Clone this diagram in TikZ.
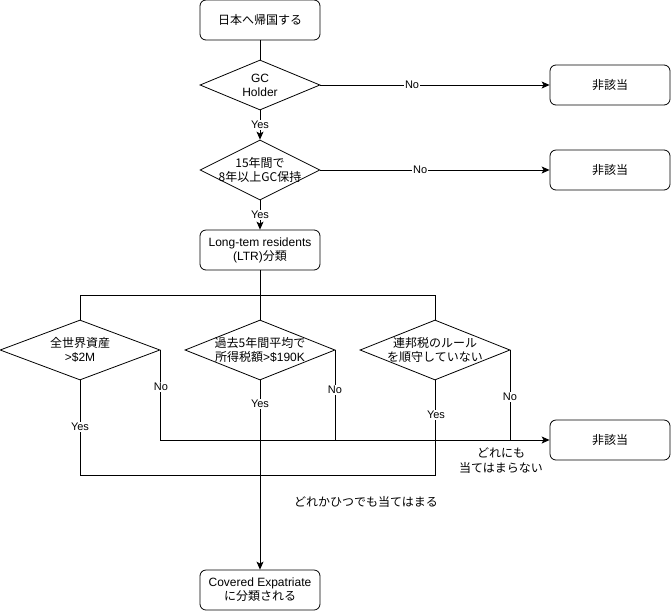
\documentclass[tikz,border=0pt]{standalone}
\usepackage{fontspec}
\setmainfont{Liberation Sans}
\newfontfamily\jp{Noto Sans CJK JP}
\usetikzlibrary{shapes.geometric,arrows.meta}
\tikzset{
  box/.style={draw, rounded corners=6pt, minimum width=120pt, minimum height=40pt, align=center, inner sep=0pt, font=\fontsize{12}{14}\selectfont, line width=0.8pt},
  dia/.style={draw, diamond, inner sep=0pt, line width=0.8pt},
  dtext/.style={align=center, font=\fontsize{12}{14}\selectfont, inner sep=0pt},
  lab/.style={fill=white, inner sep=1pt, font=\fontsize{11}{13}\selectfont},
  plain/.style={font=\fontsize{12}{15}\selectfont, align=center, inner sep=0pt},
  conn/.style={line width=0.8pt},
  arr/.style={line width=0.8pt, -{Stealth[length=8pt,width=7pt,inset=2pt]}}
}
\begin{document}
\begin{tikzpicture}[x=1pt,y=-1pt]
\useasboundingbox (0,0) rectangle (671,611);
% nodes
\node[box] (b1) at (260,20) {{\jp 日本へ帰国する}};
\node[dia, minimum width=120pt, minimum height=50pt] (d1) at (260,85) {};
\node[dtext] (d1t) at (260,85) {GC\\Holder};
\node[box] (n1) at (610,85) {{\jp 非該当}};
\node[dia, minimum width=120pt, minimum height=60pt] (d2) at (260,170) {};
\node[dtext] (d2t) at (260,170) {{\jp 15年間で}\\{\jp 8年以上GC保持}};
\node[box] (n2) at (610,170) {{\jp 非該当}};
\node[box] (ltr) at (260,250) {Long-tem residents\\(LTR){\jp 分類}};
\node[dia, minimum width=160pt, minimum height=60pt] (dA) at (80,350) {};
\node[dtext] (dAt) at (80,350) {{\jp 全世界資産}\\{>\$2M}};
\node[dia, minimum width=150pt, minimum height=60pt] (dB) at (260,350) {};
\node[dtext] (dBt) at (260,350) {{\jp 過去5年間平均で}\\{\jp 所得税額}>\$190K};
\node[dia, minimum width=150pt, minimum height=60pt] (dC) at (435,350) {};
\node[dtext] (dCt) at (435,350) {{\jp 連邦税のルール}\\{\jp を順守していない}};
\node[box] (n3) at (610,440) {{\jp 非該当}};
\node[box] (ce) at (260,590) {Covered Expatriate\\{\jp に分類される}};
\coordinate (jy) at (0,295);
\coordinate (by) at (0,475);
% connectors
\draw[conn] (b1.south) -- (d1.north);
\draw[arr] (d1.east) -- node[lab, pos=0.4] {No} (n1.west);
\draw[arr] (d1.south) -- node[lab] {Yes} (d2.north);
\draw[arr] (d2.east) -- node[lab, pos=0.435] {No} (n2.west);
\draw[arr] (d2.south) -- node[lab] {Yes} (ltr.north);
\draw[conn] (ltr.south) -- (dB.north);
\draw[conn] (dA.north) -- (dA.north |- jy) -- (dC.north |- jy) -- (dC.north);
\draw[conn] (dA.south) -- (dA.south |- by) -- (dC.south |- by) -- (dC.south);
\draw[arr] (dB.south) -- node[lab, pos=0.126] {Yes} (ce.north);
\draw[arr] (dA.east) |- (n3.west);
\draw[conn] (dB.east) -- (dB.east |- n3.west);
\draw[conn] (dC.east) -- (dC.east |- n3.west);
% labels on connectors
\node[lab] (yA) at (80,427) {Yes};
\node[lab] (yC) at (436,415) {Yes};
\node[lab] (nA) at (161,387) {No};
\node[lab] (nB) at (335,390) {No};
\node[lab] (nC) at (510,397) {No};
\node[plain] (none) at (501,461) {{\jp どれにも}\\{\jp 当てはまらない}};
\node[plain] (any) at (366,502) {{\jp どれかひつでも当てはまる}};
\end{tikzpicture}
\end{document}
